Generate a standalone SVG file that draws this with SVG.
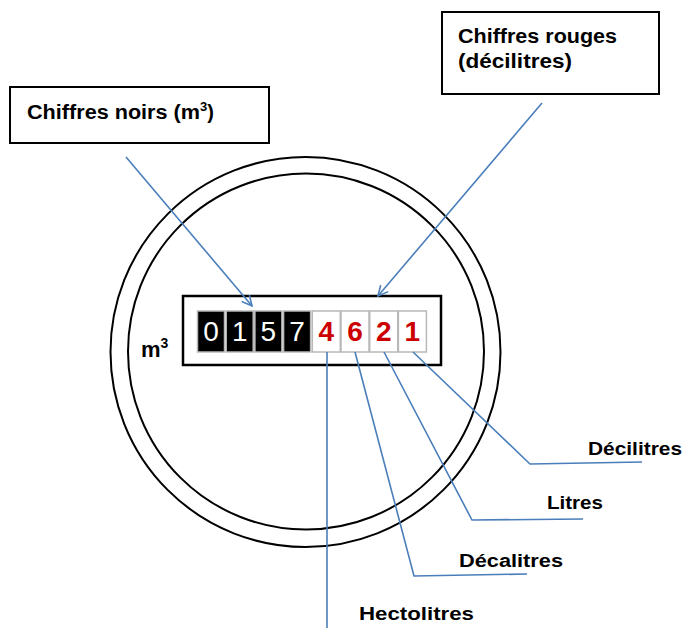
<svg xmlns="http://www.w3.org/2000/svg" width="688" height="628" viewBox="0 0 688 628">
<defs>
<style>
.lbl{font-family:"Liberation Sans",Arial,sans-serif;font-weight:bold;fill:#000}
.box{fill:#fff;stroke:#000;stroke-width:2}
.ring{fill:none;stroke:#000;stroke-width:2}
.conn{fill:none;stroke:#4a7ebb;stroke-width:1.6}
.cellb{fill:#000;stroke:#b8b8b8;stroke-width:1.5}
.cellw{fill:#fff;stroke:#b8b8b8;stroke-width:1.5}
.dw{font-family:"Liberation Sans",Arial,sans-serif;font-size:28px;fill:#fff;text-anchor:middle}
.dr{font-family:"Liberation Sans",Arial,sans-serif;font-size:28px;font-weight:bold;fill:#cc0000;text-anchor:middle}
</style>
<marker id="arr" viewBox="0 0 12 12" refX="11" refY="6" markerWidth="12" markerHeight="12" markerUnits="userSpaceOnUse" orient="auto">
<polyline points="1,1 11,6 1,11" fill="none" stroke="#4a7ebb" stroke-width="1.6"/>
</marker>
</defs>
<rect width="688" height="628" fill="#fff"/>
<g id="meter">
<circle class="ring" cx="305.5" cy="352" r="195"/>
<circle class="ring" cx="306" cy="351.5" r="178"/>
<rect x="183" y="296" width="258" height="69" fill="#fff" stroke="#000" stroke-width="2.5"/>
<rect class="cellb" x="197.5" y="311" width="27" height="41"/>
<rect class="cellb" x="226.2" y="311" width="27" height="41"/>
<rect class="cellb" x="254.9" y="311" width="27" height="41"/>
<rect class="cellb" x="283.6" y="311" width="27" height="41"/>
<rect class="cellw" x="312.3" y="311" width="28" height="41"/>
<rect class="cellw" x="341" y="311" width="28" height="41"/>
<rect class="cellw" x="369.7" y="311" width="28" height="41"/>
<rect class="cellw" x="398.4" y="311" width="28" height="41"/>
<text class="dw" x="211" y="341">0</text>
<text class="dw" x="239.7" y="341">1</text>
<text class="dw" x="268.4" y="341">5</text>
<text class="dw" x="297.1" y="341">7</text>
<text class="dr" x="326.3" y="341">4</text>
<text class="dr" x="355" y="341">6</text>
<text class="dr" x="383.7" y="341">2</text>
<text class="dr" x="412.4" y="341">1</text>
<text class="lbl" x="141" y="357" font-size="22">m<tspan font-size="14" dy="-9">3</tspan></text>
</g>
<g id="label-noirs">
<rect class="box" x="10" y="87" width="259" height="56"/>
<text class="lbl" x="27" y="119" font-size="20"><tspan textLength="173" lengthAdjust="spacingAndGlyphs">Chiffres noirs (m</tspan><tspan font-size="13" dy="-8">3</tspan><tspan dy="8">)</tspan></text>
</g>
<g id="label-rouges">
<rect class="box" x="442" y="12" width="217" height="82"/>
<text class="lbl" x="458" y="43" font-size="20" textLength="159" lengthAdjust="spacingAndGlyphs">Chiffres rouges</text>
<text class="lbl" x="458" y="68" font-size="20" textLength="114" lengthAdjust="spacingAndGlyphs">(décilitres)</text>
</g>
<g id="label-decilitres"><text class="lbl" x="588" y="455" font-size="18" textLength="94" lengthAdjust="spacingAndGlyphs">Décilitres</text></g>
<g id="label-litres"><text class="lbl" x="547" y="509" font-size="18" textLength="56" lengthAdjust="spacingAndGlyphs">Litres</text></g>
<g id="label-decalitres"><text class="lbl" x="459" y="567" font-size="18" textLength="104" lengthAdjust="spacingAndGlyphs">Décalitres</text></g>
<g id="label-hectolitres"><text class="lbl" x="359" y="620" font-size="18" textLength="115" lengthAdjust="spacingAndGlyphs">Hectolitres</text></g>
<g id="connectors">
<line class="conn" x1="126" y1="157" x2="252" y2="306" marker-end="url(#arr)"/>
<line class="conn" x1="542" y1="103" x2="378" y2="296" marker-end="url(#arr)"/>
<polyline class="conn" points="327,352 327,628"/>
<polyline class="conn" points="355,352 414,576 527,574"/>
<polyline class="conn" points="384,352 472,520 583,519"/>
<polyline class="conn" points="413,352 530,464 642,462"/>
</g>
</svg>
